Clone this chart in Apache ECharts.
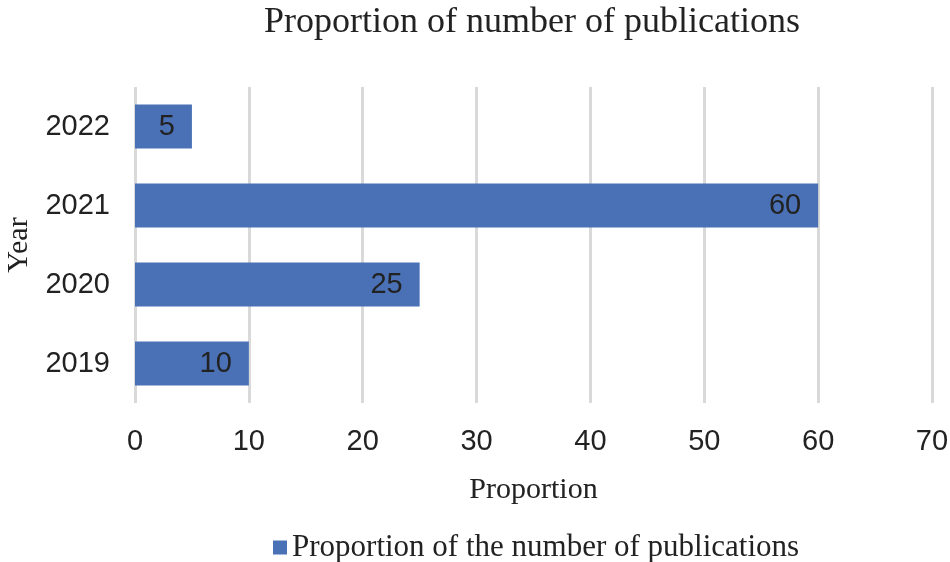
<!DOCTYPE html>
<html>
<head>
<meta charset="utf-8">
<script src="https://cdn.jsdelivr.net/npm/echarts@6/dist/echarts.min.js"></script>
<style>
  html, body { margin: 0; padding: 0; background: #fff; }
  #chart { width: 950px; height: 562px; }
</style>
</head>
<body>
<div id="chart"></div>
<script>
var years = ["2019", "2020", "2021", "2022"];
var proportions = [10, 25, 60, 5];
var seriesName = "Proportion of the number of publications";

var serif = "'Liberation Serif', 'Times New Roman', serif";
var sans = "'Liberation Sans', Arial, sans-serif";

var myChart = echarts.init(document.getElementById("chart"));
myChart.setOption({
  animation: false,
  title: {
    text: "Proportion of number of publications",
    left: 527,
    textAlign: "center",
    top: 0,
    textStyle: { fontFamily: serif, fontSize: 36, fontWeight: "normal", color: "#222" }
  },
  legend: {
    data: [seriesName],
    left: 268,
    top: 527,
    icon: "rect",
    itemWidth: 14,
    itemHeight: 14,
    itemGap: 6,
    textStyle: { fontFamily: serif, fontSize: 31, color: "#222" }
  },
  grid: {
    left: 135,
    right: 18,
    top: 87,
    bottom: 159,
    outerBoundsMode: "none"
  },
  xAxis: {
    type: "value",
    min: 0,
    max: 70,
    interval: 10,
    name: "Proportion",
    nameLocation: "middle",
    nameGap: 72,
    nameTextStyle: { fontFamily: serif, fontSize: 30, color: "#222" },
    axisLine: { show: false },
    axisTick: { show: false },
    axisLabel: { fontFamily: sans, fontSize: 29, color: "#222", margin: 24 },
    splitLine: { lineStyle: { color: "#d9d9d9", width: 3 } }
  },
  yAxis: {
    type: "category",
    data: years,
    name: "Year",
    nameLocation: "middle",
    nameRotate: 90,
    nameGap: 101,
    nameTextStyle: { fontFamily: serif, fontSize: 30, color: "#222" },
    axisLine: { show: false },
    axisTick: { show: false },
    axisLabel: { fontFamily: sans, fontSize: 29, color: "#222", margin: 25 }
  },
  series: [
    {
      name: seriesName,
      type: "bar",
      data: proportions,
      barWidth: 44,
      itemStyle: { color: "#4a71b6" },
      label: {
        show: true,
        position: "insideRight",
        distance: 17,
        fontFamily: sans,
        fontSize: 29,
        color: "#222"
      }
    }
  ]
});
</script>
</body>
</html>
